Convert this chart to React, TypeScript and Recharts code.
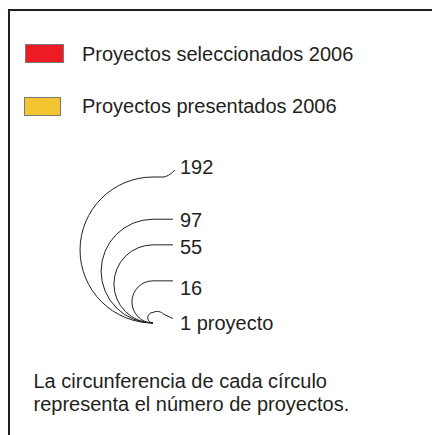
import React from 'react';
import { ScatterChart, Scatter, XAxis, YAxis, ZAxis } from 'recharts';

const projectCounts = [192, 97, 55, 16, 1];
const countLabels = ['192', '97', '55', '16', '1 proyecto'];
const legendNames = ['Proyectos seleccionados 2006', 'Proyectos presentados 2006'];
const legendColors = ['#ED1C24', '#F3C530'];
const noteLines = ['La circunferencia de cada círculo', 'representa el número de proyectos.'];

const INK = '#231f20';
const FONT = '"Liberation Sans", Arial, Helvetica, sans-serif';
const MAX_R = 73;
// baseline of each label, measured from the top of its circle
const LABEL_DY = [-3, 8, 9.5, 14.5, 17.5];

const circleData = projectCounts.map((value, i) => ({ x: 0, y: 0, value, label: countLabels[i] }));

const RingShape = (props: any) => {
  const { cx, cy, width, payload } = props;
  const i = countLabels.indexOf(payload.label);
  const r = width / 2;
  const top = cy - 2 * r;
  let leader = `M${cx},${top} L${cx + 20},${top}`;
  if (i === 0) {
    leader = `M${cx},${top} L${cx + 10},${top} Q${cx + 15},${top} ${cx + 22},${top - 7}`;
  } else if (i === countLabels.length - 1) {
    leader = `M${cx},${top} C${cx + 4},${top - 2} ${cx + 8},${top - 1} ${cx + 11},${top + 2} L${cx + 20},${top + 6}`;
  }
  return (
    <g>
      <path
        d={`M${cx},${cy} A${r},${r} 0 0 1 ${cx},${top}`}
        fill="none"
        stroke={INK}
        strokeWidth={1}
      />
      <path d={leader} fill="none" stroke={INK} strokeWidth={1} />
      <text x={cx + 27} y={top + LABEL_DY[i]} fill={INK} fontSize={20} fontFamily={FONT}>
        {payload.label}
      </text>
    </g>
  );
};

const textStyle: React.CSSProperties = {
  position: 'absolute',
  fontFamily: FONT,
  fontSize: 20,
  lineHeight: '23px',
  color: INK,
  whiteSpace: 'nowrap',
};

export default function App() {
  return (
    <div
      style={{
        position: 'absolute',
        left: 0,
        top: 0,
        width: 432,
        height: 435,
        overflow: 'hidden',
        background: '#fff',
      }}
    >
      <div
        style={{
          position: 'absolute',
          left: 8,
          top: 9,
          width: 600,
          height: 600,
          borderTop: `2px solid ${INK}`,
          borderLeft: `2px solid ${INK}`,
        }}
      />
      {legendNames.map((name, i) => (
        <React.Fragment key={name}>
          <div
            style={{
              position: 'absolute',
              left: i === 0 ? 25 : 24,
              top: i === 0 ? 44 : 97,
              width: i === 0 ? 39 : 37,
              height: 19,
              boxSizing: 'border-box',
              border: '1px solid #7a7a7a',
              background: legendColors[i],
            }}
          />
          <div style={{ ...textStyle, left: 82, top: i === 0 ? 43 : 95 }}>{name}</div>
        </React.Fragment>
      ))}
      <ScatterChart
        width={432}
        height={435}
        margin={{ top: 0, left: 153, right: 0, bottom: 112 }}
        style={{ position: 'absolute', left: 0, top: 0 }}
      >
        <XAxis type="number" dataKey="x" domain={[0, 1]} hide />
        <YAxis type="number" dataKey="y" domain={[0, 1]} hide />
        <ZAxis
          type="number"
          dataKey="value"
          domain={[0, 192]}
          range={[0, Math.PI * MAX_R * MAX_R]}
        />
        <Scatter data={circleData} shape={RingShape} isAnimationActive={false} />
      </ScatterChart>
      {noteLines.map((line, i) => (
        <div key={line} style={{ ...textStyle, left: 33.5, top: 370 + i * 23.4 }}>
          {line}
        </div>
      ))}
    </div>
  );
}
